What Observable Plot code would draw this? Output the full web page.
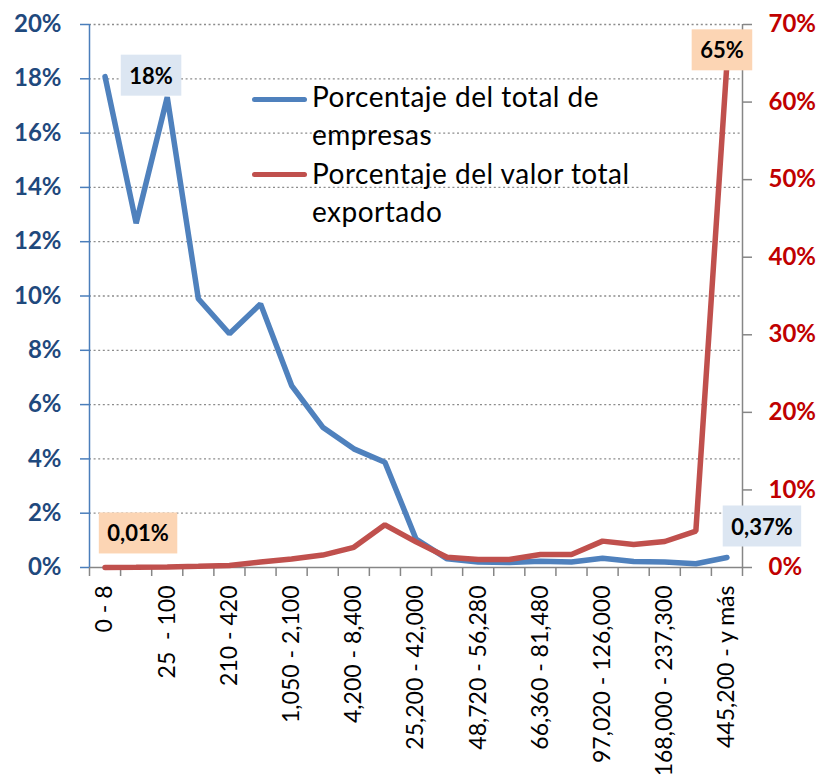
<!DOCTYPE html>
<html><head><meta charset="utf-8">
<script src="https://cdn.jsdelivr.net/npm/d3@7"></script>
<script src="https://cdn.jsdelivr.net/npm/@observablehq/plot@0.6"></script>
<style>
body{margin:0;background:#fff;}
#wrap{position:relative;width:823px;height:779px;font-family:Lato,"Open Sans",sans-serif;}
.sw{position:absolute;height:5px;width:55px;border-radius:2.5px;}
.lt{position:absolute;font-size:28px;letter-spacing:0.5px;line-height:37.7px;white-space:pre;color:#000;}
</style></head><body><div id="wrap"></div>
<script>
const categorias = ["0 - 8","8 - 25","25  - 100","100 - 210","210 - 420","420 - 1,050","1,050 - 2,100","2,100 - 4,200","4,200 - 8,400","8,400 - 25,200","25,200 - 42,000","42,000 - 48,720","48,720 - 56,280","56,280 - 66,360","66,360 - 81,480","81,480 - 97,020","97,020 - 126,000","126,000 - 168,000","168,000 - 237,300","237,300 - 445,200","445,200 - y más"];
const empresas = [18.08,12.68,17.32,9.90,8.61,9.71,6.70,5.17,4.37,3.88,1.05,0.32,0.20,0.18,0.23,0.20,0.34,0.22,0.20,0.14,0.37];
const valorExportado = [0.01,0.03,0.08,0.15,0.26,0.7,1.1,1.6,2.6,5.5,3.3,1.33,1.03,1.03,1.68,1.68,3.4,2.96,3.35,4.7,65];
const ticksIzq = [0,2,4,6,8,10,12,14,16,18,20];
const ticksDer = [0,10,20,30,40,50,60,70];
const series = ["Porcentaje del total de\nempresas","Porcentaje del valor total\nexportado"];
const coloresSerie = ["#4f81bd","#c0504d"];
const etiquetaTexto = ["18%","0,01%","65%","0,37%"];
const etiquetaSerie = [0,1,1,0];
const etiquetaIndice = [0,0,20,20];
const etiquetaFondo = ["#dce6f2","#fcd5b4","#fcd5b4","#dce6f2"];

const k = 20/70;
const yVal = (s,i) => s === 0 ? empresas[i] : valorExportado[i]*k;
const offsets = [[46,0],[33,-33],[-5,-12],[35,-30]];

const chart = Plot.plot({
  width: 823, height: 779,
  marginLeft: 89, marginRight: 81, marginTop: 24, marginBottom: 212,
  x: {domain: [-0.5, 20.5], axis: null},
  y: {domain: [0, 20], axis: null},
  style: {fontFamily: "Lato, 'Open Sans', sans-serif", background: "white", overflow: "visible"},
  marks: [
    Plot.ruleY(ticksIzq.filter(d => d > 0), {stroke: "#8c8c8c", strokeWidth: 1.3, strokeDasharray: "2,2.6"}),
    Plot.axisX({ticks: d3.range(-0.5, 21, 1), tickSize: 9, tickFormat: () => "", stroke: "#868686", strokeWidth: 1.5}),
    Plot.axisX({ticks: d3.range(0, 21, 2), tickSize: 0, tickPadding: 18, tickRotate: -90, tickFormat: i => categorias[i], fontSize: 23, fill: "#000"}),
    Plot.ruleY([0], {stroke: "#868686", strokeWidth: 1.5}),
    Plot.ruleX([20.5], {stroke: "#868686", strokeWidth: 1.5}),
    Plot.ruleX([-0.5], {stroke: "#4a7ebb", strokeWidth: 1.5}),
    Plot.axisY({ticks: ticksIzq, tickSize: 9, tickPadding: 19, tickFormat: d => d + "%", stroke: "#4a7ebb", strokeWidth: 1.5, fill: "#1f497d", fontSize: 24, fontWeight: "bold"}),
    Plot.axisY({anchor: "right", ticks: ticksDer.map(v => v*k), tickFormat: d => Math.round(d/k) + "%", tickSize: 9, tickPadding: 17, stroke: "#868686", strokeWidth: 1.5, fill: "#c00000", fontSize: 24, fontWeight: "bold"}),
    Plot.lineY(empresas, {x: (d,i) => i, y: d => d, stroke: coloresSerie[0], strokeWidth: 5.5, strokeLinejoin: "miter"}),
    Plot.lineY(valorExportado, {x: (d,i) => i, y: d => d*k, stroke: coloresSerie[1], strokeWidth: 5.5, strokeLinejoin: "miter"}),
    ...etiquetaTexto.map((t, j) => Plot.text([j], {
      x: j => etiquetaIndice[j], y: j => yVal(etiquetaSerie[j], etiquetaIndice[j]),
      text: j => etiquetaTexto[j], dx: offsets[j][0], dy: offsets[j][1],
      fontSize: 22, fontWeight: "bold", fill: "#000"
    }))
  ]
});

const wrap = document.getElementById("wrap");
wrap.appendChild(chart);

// fondo de las etiquetas
const textos = chart.querySelectorAll('g[aria-label="text"] text');
textos.forEach((el, j) => {
  const b = el.getBBox();
  const r = document.createElementNS("http://www.w3.org/2000/svg", "rect");
  r.setAttribute("x", b.x - 8.5);
  r.setAttribute("y", b.y - 7);
  r.setAttribute("width", b.width + 17);
  r.setAttribute("height", b.height + 14);
  r.setAttribute("fill", etiquetaFondo[j]);
  if (el.getAttribute("transform")) r.setAttribute("transform", el.getAttribute("transform"));
  el.parentNode.insertBefore(r, el);
});

// leyenda
const legPos = [{sw: 96.5, tx: 78.3}, {sw: 171.5, tx: 155.3}];
series.forEach((s, j) => {
  const sw = document.createElement("div");
  sw.className = "sw"; sw.style.left = "252px"; sw.style.top = legPos[j].sw + "px"; sw.style.background = coloresSerie[j];
  wrap.appendChild(sw);
  const tx = document.createElement("div");
  tx.className = "lt"; tx.style.left = "312px"; tx.style.top = legPos[j].tx + "px"; tx.textContent = s;
  wrap.appendChild(tx);
});
</script>
</body></html>
